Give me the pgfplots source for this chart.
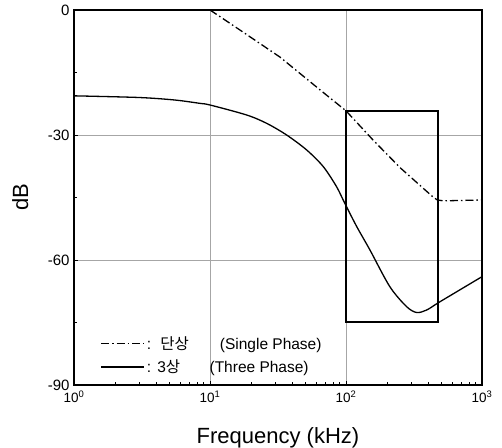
\documentclass[border=0pt]{standalone}
\usepackage{pgfplots}
\pgfplotsset{compat=1.18}
\usepackage{fontspec}
\setmainfont{Liberation Sans}
\newfontfamily\kr{Noto Sans CJK KR}

\begin{document}
\begin{tikzpicture}
\begin{axis}[
    name=ax,
    xmode=log,
    scale only axis,
    width=408pt, height=375pt,
    xmin=1, xmax=1000,
    ymin=-90, ymax=0,
    xtick={1,10,100,1000},
    xticklabels={10\textsuperscript{0},10\textsuperscript{1},10\textsuperscript{2},10\textsuperscript{3}},
    ytick={-90,-60,-30,0},
    yticklabels={-90,-60,-30,0},
    minor ytick={-75,-45,-15},
    tick align=inside,
    tick pos=left,
    major tick length=4pt,
    minor tick length=3pt,
    xmajorgrids, ymajorgrids,
    grid style={gray!70, line width=0.5pt},
    axis line style={line width=1.2pt},
    tick style={black, line width=0.6pt},
    yticklabel style={font=\fontsize{15}{17}\selectfont, xshift=-1pt},
    xticklabel style={font=\fontsize{13.5}{16}\selectfont, yshift=-2pt},
    xlabel={Frequency (kHz)},
    ylabel={dB},
    label style={font=\fontsize{22}{26}\selectfont},
    xlabel style={at={(axis description cs:0.5,-0.155)}, anchor=base},
    ylabel style={at={(axis description cs:-0.132,0.5)}, anchor=center},
    legend style={at={(axis description cs:0.057,0.018)}, anchor=south west,
        draw=none, fill=none, row sep=5pt},
    legend cell align=left,
    legend image code/.code={\draw[#1] (0pt,0pt) -- (43pt,0pt);},
]
\addplot[black, line width=1.3pt, dash pattern=on 8pt off 3pt on 1.5pt off 3pt] coordinates {
    (10,0) (16.6,-4.8) (32.7,-11.3) (64.6,-19.2) (100,-24.2)
    (158,-31.2) (251,-37.9) (437,-44.9) (470,-45.6) (520,-45.8) (1000,-45.6)
};
\addlegendentry{\fontsize{15.5}{18}\selectfont :\hspace{0.6em}{\kr 단상}\hspace{2em}(Single Phase)}
\addplot[black, line width=1.3pt, smooth] coordinates {
    (1,-20.6) (3,-21.0) (5.5,-21.6) (8.4,-22.4) (10,-22.8) (18.6,-25.2)
    (26.1,-27.2) (36.6,-30) (51.4,-33.6) (68.1,-37.6) (85.2,-42.4)
    (98,-46.4) (120,-52) (150,-57.6) (210,-66.4) (279,-71.2) (331,-72.6)
    (392,-72) (492,-70) (1000,-64)
};
\addlegendentry{\fontsize{15.5}{18}\selectfont :\hspace{0.4em}3{\kr 상}\hspace{1.9em}(Three Phase)}
\draw[black, line width=2pt] (axis cs:100,-24.2) rectangle (axis cs:476,-75);
\end{axis}
\pgfresetboundingbox
\path ([xshift=-74pt,yshift=-63pt]ax.south west) rectangle ([xshift=20pt,yshift=10pt]ax.north east);
\end{tikzpicture}
\end{document}
